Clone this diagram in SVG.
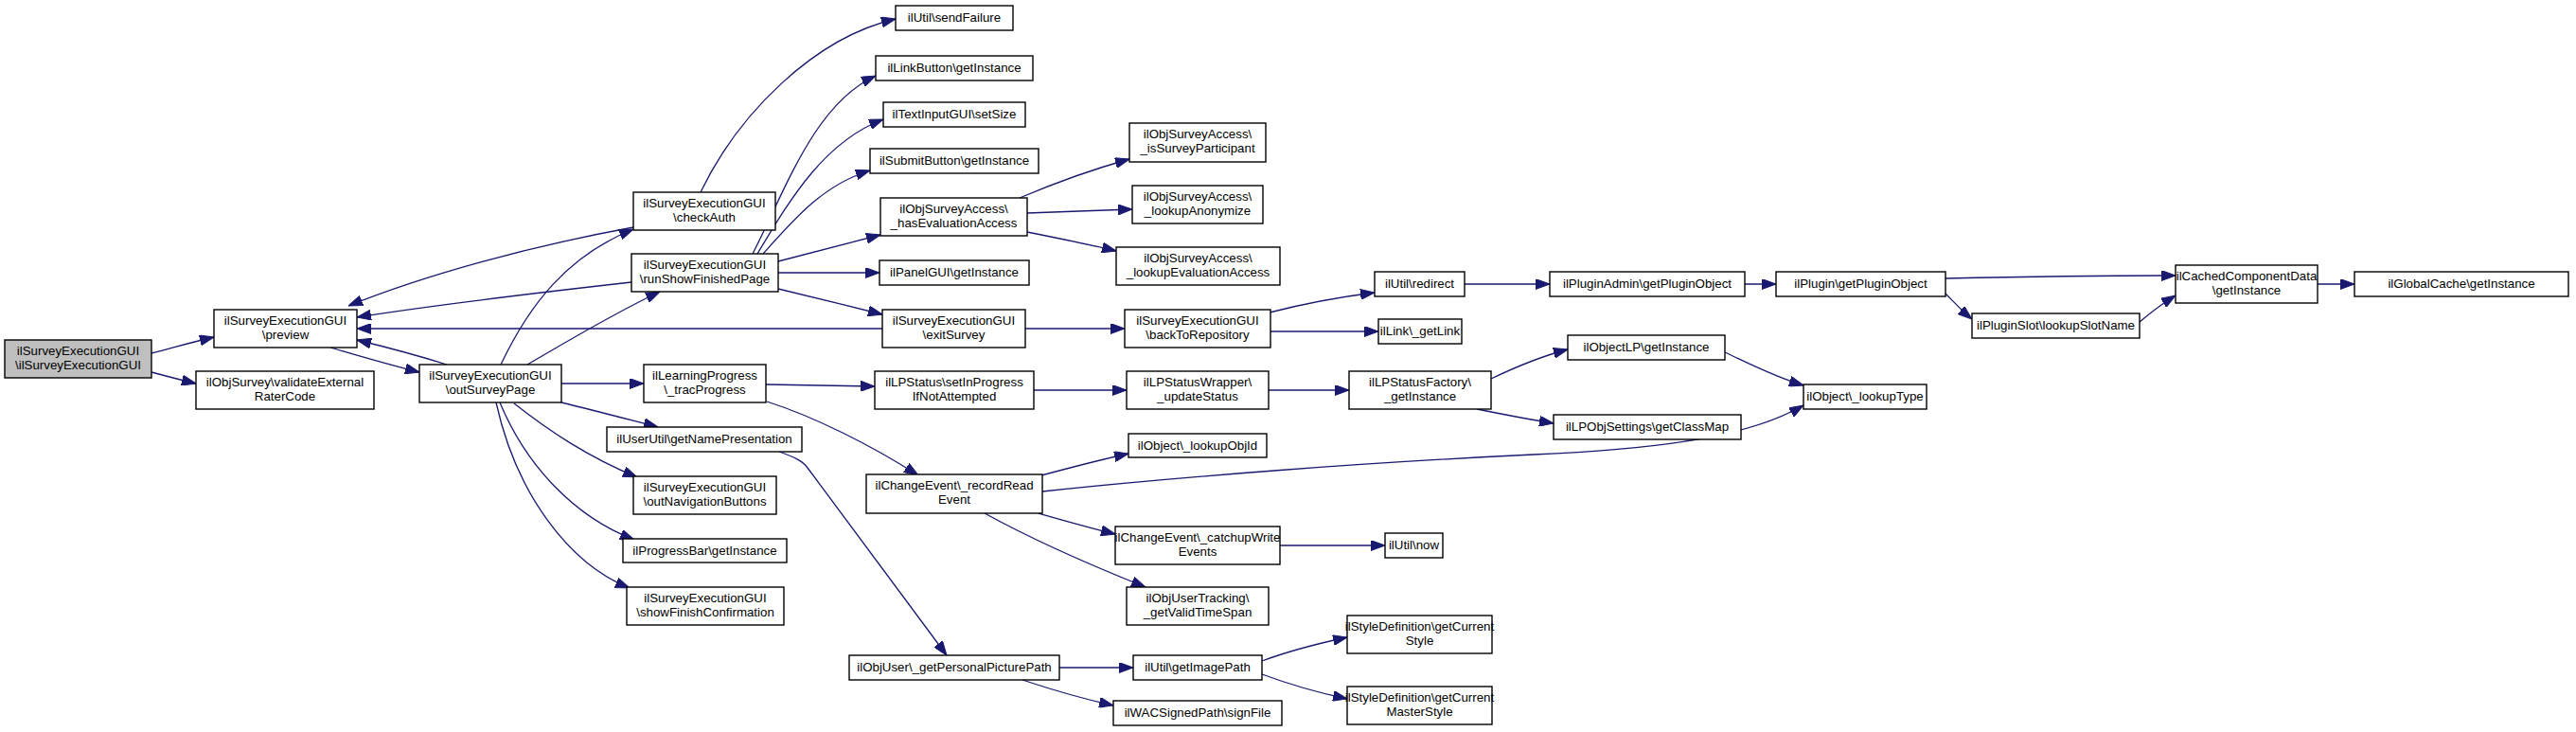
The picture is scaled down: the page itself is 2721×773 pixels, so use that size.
<svg xmlns="http://www.w3.org/2000/svg" width="2721" height="773" viewBox="0 0 2721 773">
<defs>
<style>
rect{fill:#fff;stroke:#000;stroke-width:1.4}
.root rect{fill:#bfbfbf}
text{font-family:"Liberation Sans",Arial,Helvetica,sans-serif;font-size:13.3px;text-anchor:middle;fill:#000}
.e path{fill:none;stroke:#191970;stroke-width:1.3;marker-end:url(#a)}
</style>
<marker id="a" markerUnits="userSpaceOnUse" markerWidth="15" markerHeight="11" refX="15" refY="5.5" orient="auto"><path d="M0,0 L15,5.5 L0,11 z" fill="#191970" stroke="#191970"/></marker>
</defs>
<rect x="0" y="0" width="2721" height="773" style="fill:#fff;stroke:none"/>
<g class="e">
<path d="M160,373 C180,368 200,362 226,356"/>
<path d="M160,393 C175,397 190,401 207,405"/>
<path d="M349,367 C380,376 410,385 443,393"/>
<path d="M472,385 C440,375 410,367 377,359"/>
<path d="M669,240 C560,260 450,290 368,323"/>
<path d="M667,298 C560,310 460,322 377,335"/>
<path d="M932,347 L377,347"/>
<path d="M529,385 C560,320 600,270 669,242"/>
<path d="M557,385 C600,360 650,330 697,308"/>
<path d="M593,405 L680,405"/>
<path d="M593,425 C630,434 660,442 695,451"/>
<path d="M543,426 C580,455 620,482 673,504"/>
<path d="M528,425 C555,490 605,545 670,570"/>
<path d="M524,425 C545,520 600,595 665,621"/>
<path d="M740,203 C780,120 860,40 946,20"/>
<path d="M795,268 C830,200 860,110 925,80"/>
<path d="M800,268 C835,210 870,150 933,126"/>
<path d="M806,268 C840,230 870,195 919,180"/>
<path d="M822,276 C860,266 895,257 930,248"/>
<path d="M822,288 L929,288"/>
<path d="M822,305 C860,314 895,323 932,332"/>
<path d="M1077,209 C1110,195 1150,180 1193,168"/>
<path d="M1085,225 C1120,224 1160,222 1196,221"/>
<path d="M1085,245 C1115,251 1150,258 1179,265"/>
<path d="M1083,347 L1188,347"/>
<path d="M1341,330 C1380,320 1420,313 1452,309"/>
<path d="M1342,350 L1456,350"/>
<path d="M1547,300 L1637,300"/>
<path d="M1843,300 L1876,300"/>
<path d="M2055,294 C2150,292 2220,291 2298,291"/>
<path d="M2055,310 C2065,320 2072,328 2083,337"/>
<path d="M2260,340 C2272,330 2285,320 2298,312"/>
<path d="M2448,300 L2487,300"/>
<path d="M809,406 L924,408"/>
<path d="M810,424 C860,440 920,470 970,502"/>
<path d="M1092,412 L1190,412"/>
<path d="M1340,412 L1425,412"/>
<path d="M1575,400 C1600,388 1625,377 1656,369"/>
<path d="M1560,432 C1590,438 1615,443 1641,447"/>
<path d="M1822,372 C1850,385 1875,398 1905,407"/>
<path d="M1100,502 C1130,494 1160,486 1192,479"/>
<path d="M1101,519 C1250,503 1450,488 1620,480 C1760,474 1850,460 1905,428"/>
<path d="M1097,542 C1125,550 1150,557 1178,564"/>
<path d="M1040,542 C1100,575 1160,600 1210,620"/>
<path d="M1352,576 L1463,576"/>
<path d="M823,477 C840,483 848,487 853,494 L1000,692"/>
<path d="M1119,705 L1197,705"/>
<path d="M1080,718 C1110,728 1140,737 1176,745"/>
<path d="M1333,698 C1360,688 1390,680 1423,673"/>
<path d="M1333,712 C1360,722 1390,731 1423,738"/>
</g>
<g id="n0" class="root"><rect x="5" y="359" width="155" height="40"/><text x="82.5" y="375">ilSurveyExecutionGUI</text><text x="82.5" y="390">\ilSurveyExecutionGUI</text></g>
<g id="n1"><rect x="226" y="327" width="151" height="40"/><text x="301.5" y="343">ilSurveyExecutionGUI</text><text x="301.5" y="358">\preview</text></g>
<g id="n2"><rect x="207" y="392" width="188" height="40"/><text x="301" y="408">ilObjSurvey\validateExternal</text><text x="301" y="423">RaterCode</text></g>
<g id="n3"><rect x="443" y="385" width="150" height="40"/><text x="518" y="401">ilSurveyExecutionGUI</text><text x="518" y="416">\outSurveyPage</text></g>
<g id="n4"><rect x="669" y="203" width="150" height="40"/><text x="744" y="219">ilSurveyExecutionGUI</text><text x="744" y="234">\checkAuth</text></g>
<g id="n5"><rect x="667" y="268" width="155" height="40"/><text x="744.5" y="284">ilSurveyExecutionGUI</text><text x="744.5" y="299">\runShowFinishedPage</text></g>
<g id="n6"><rect x="680" y="385" width="129" height="40"/><text x="744.5" y="401">ilLearningProgress</text><text x="744.5" y="416">\_tracProgress</text></g>
<g id="n7"><rect x="641" y="451" width="206" height="26"/><text x="744" y="468">ilUserUtil\getNamePresentation</text></g>
<g id="n8"><rect x="669" y="503" width="151" height="40"/><text x="744.5" y="519">ilSurveyExecutionGUI</text><text x="744.5" y="534">\outNavigationButtons</text></g>
<g id="n9"><rect x="658" y="569" width="173" height="25"/><text x="744.5" y="586">ilProgressBar\getInstance</text></g>
<g id="n10"><rect x="662" y="620" width="166" height="40"/><text x="745" y="636">ilSurveyExecutionGUI</text><text x="745" y="651">\showFinishConfirmation</text></g>
<g id="n11"><rect x="946" y="6" width="124" height="26"/><text x="1008" y="23">ilUtil\sendFailure</text></g>
<g id="n12"><rect x="925" y="59" width="166" height="26"/><text x="1008" y="76">ilLinkButton\getInstance</text></g>
<g id="n13"><rect x="933" y="108" width="150" height="26"/><text x="1008" y="125">ilTextInputGUI\setSize</text></g>
<g id="n14"><rect x="919" y="157" width="178" height="26"/><text x="1008" y="174">ilSubmitButton\getInstance</text></g>
<g id="n15"><rect x="930" y="209" width="155" height="40"/><text x="1007.5" y="225">ilObjSurveyAccess\</text><text x="1007.5" y="240">_hasEvaluationAccess</text></g>
<g id="n16"><rect x="929" y="275" width="158" height="26"/><text x="1008" y="292">ilPanelGUI\getInstance</text></g>
<g id="n17"><rect x="932" y="327" width="151" height="40"/><text x="1007.5" y="343">ilSurveyExecutionGUI</text><text x="1007.5" y="358">\exitSurvey</text></g>
<g id="n18"><rect x="924" y="392" width="168" height="40"/><text x="1008" y="408">ilLPStatus\setInProgress</text><text x="1008" y="423">IfNotAttempted</text></g>
<g id="n19"><rect x="915" y="501" width="186" height="41"/><text x="1008" y="517">ilChangeEvent\_recordRead</text><text x="1008" y="532">Event</text></g>
<g id="n20"><rect x="897" y="692" width="222" height="26"/><text x="1008" y="709">ilObjUser\_getPersonalPicturePath</text></g>
<g id="n21"><rect x="1193" y="130" width="144" height="41"/><text x="1265" y="146">ilObjSurveyAccess\</text><text x="1265" y="161">_isSurveyParticipant</text></g>
<g id="n22"><rect x="1196" y="196" width="138" height="40"/><text x="1265" y="212">ilObjSurveyAccess\</text><text x="1265" y="227">_lookupAnonymize</text></g>
<g id="n23"><rect x="1179" y="261" width="173" height="40"/><text x="1265.5" y="277">ilObjSurveyAccess\</text><text x="1265.5" y="292">_lookupEvaluationAccess</text></g>
<g id="n24"><rect x="1188" y="327" width="154" height="40"/><text x="1265" y="343">ilSurveyExecutionGUI</text><text x="1265" y="358">\backToRepository</text></g>
<g id="n25"><rect x="1190" y="392" width="150" height="40"/><text x="1265" y="408">ilLPStatusWrapper\</text><text x="1265" y="423">_updateStatus</text></g>
<g id="n26"><rect x="1192" y="458" width="146" height="25"/><text x="1265" y="475">ilObject\_lookupObjId</text></g>
<g id="n27"><rect x="1178" y="556" width="174" height="40"/><text x="1265" y="572">ilChangeEvent\_catchupWrite</text><text x="1265" y="587">Events</text></g>
<g id="n28"><rect x="1190" y="620" width="150" height="40"/><text x="1265" y="636">ilObjUserTracking\</text><text x="1265" y="651">_getValidTimeSpan</text></g>
<g id="n29"><rect x="1197" y="692" width="136" height="26"/><text x="1265" y="709">ilUtil\getImagePath</text></g>
<g id="n30"><rect x="1176" y="740" width="178" height="26"/><text x="1265" y="757">ilWACSignedPath\signFile</text></g>
<g id="n31"><rect x="1452" y="287" width="95" height="26"/><text x="1499.5" y="304">ilUtil\redirect</text></g>
<g id="n32"><rect x="1456" y="337" width="88" height="26"/><text x="1500" y="354">ilLink\_getLink</text></g>
<g id="n33"><rect x="1425" y="392" width="150" height="40"/><text x="1500" y="408">ilLPStatusFactory\</text><text x="1500" y="423">_getInstance</text></g>
<g id="n34"><rect x="1463" y="563" width="61" height="26"/><text x="1493.5" y="580">ilUtil\now</text></g>
<g id="n35"><rect x="1423" y="650" width="153" height="40"/><text x="1499.5" y="666">ilStyleDefinition\getCurrent</text><text x="1499.5" y="681">Style</text></g>
<g id="n36"><rect x="1423" y="725" width="153" height="40"/><text x="1499.5" y="741">ilStyleDefinition\getCurrent</text><text x="1499.5" y="756">MasterStyle</text></g>
<g id="n37"><rect x="1637" y="287" width="206" height="26"/><text x="1740" y="304">ilPluginAdmin\getPluginObject</text></g>
<g id="n38"><rect x="1656" y="354" width="166" height="26"/><text x="1739" y="371">ilObjectLP\getInstance</text></g>
<g id="n39"><rect x="1641" y="438" width="198" height="26"/><text x="1740" y="455">ilLPObjSettings\getClassMap</text></g>
<g id="n40"><rect x="1876" y="287" width="179" height="26"/><text x="1965.5" y="304">ilPlugin\getPluginObject</text></g>
<g id="n41"><rect x="1905" y="406" width="130" height="26"/><text x="1970" y="423">ilObject\_lookupType</text></g>
<g id="n42"><rect x="2083" y="331" width="177" height="26"/><text x="2171.5" y="348">ilPluginSlot\lookupSlotName</text></g>
<g id="n43"><rect x="2298" y="280" width="150" height="40"/><text x="2373" y="296">ilCachedComponentData</text><text x="2373" y="311">\getInstance</text></g>
<g id="n44"><rect x="2487" y="287" width="226" height="26"/><text x="2600" y="304">ilGlobalCache\getInstance</text></g>
</svg>
